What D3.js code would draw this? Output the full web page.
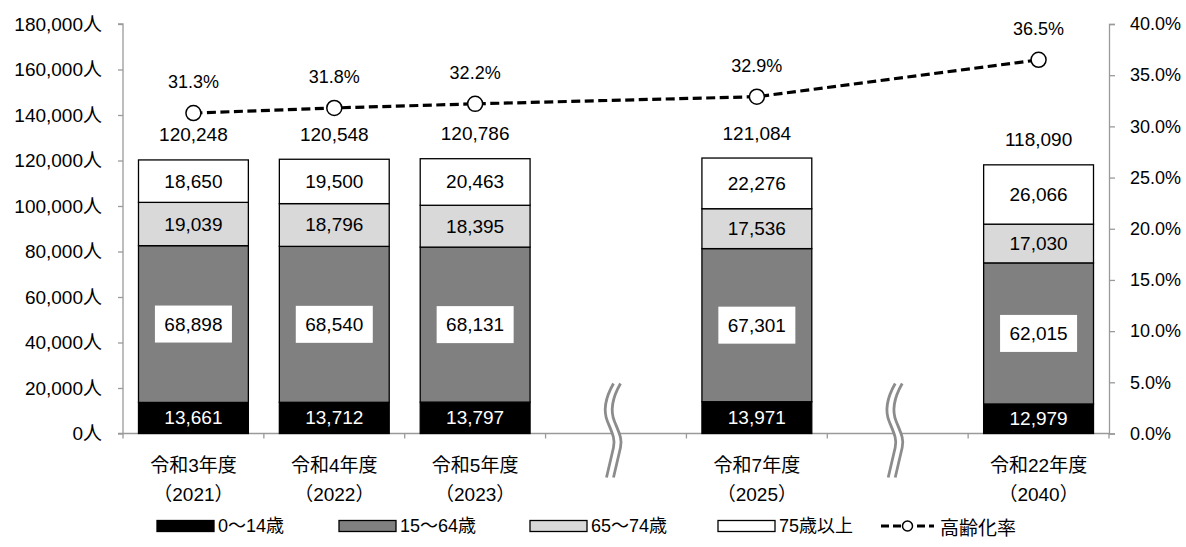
<!DOCTYPE html>
<html lang="ja">
<head>
<meta charset="utf-8">
<script src="https://cdn.jsdelivr.net/npm/d3@7"></script>
<style>
  html, body { margin: 0; padding: 0; background: #fff; }
  svg { display: block; }
  text { font-family: "Liberation Sans", "Noto Sans CJK JP", sans-serif; fill: #000; }
  .jp { font-family: "Noto Sans CJK JP", "Liberation Sans", sans-serif; }
</style>
</head>
<body>
<svg id="chart" width="1186" height="547"></svg>
<script>
// Population by age group (people) and aging rate (%)
const categories   = ["令和3年度", "令和4年度", "令和5年度", "令和7年度", "令和22年度"];
const fiscalYears  = ["（2021）", "（2022）", "（2023）", "（2025）", "（2040）"];
const slotOrder    = ["令和3年度", "令和4年度", "令和5年度", "gap-1", "令和7年度", "gap-2", "令和22年度"];
const breakSlots   = ["gap-1", "gap-2"];

const age0to14   = [13661, 13712, 13797, 13971, 12979];
const age15to64  = [68898, 68540, 68131, 67301, 62015];
const age65to74  = [19039, 18796, 18395, 17536, 17030];
const age75plus  = [18650, 19500, 20463, 22276, 26066];
const totals     = [120248, 120548, 120786, 121084, 118090];
const agingRate  = [31.3, 31.8, 32.2, 32.9, 36.5];

const seriesNames = ["0〜14歳", "15〜64歳", "65〜74歳", "75歳以上"];
const lineName    = "高齢化率";
const leftTicks   = [0, 20000, 40000, 60000, 80000, 100000, 120000, 140000, 160000, 180000];
const rightTicks  = [0, 5, 10, 15, 20, 25, 30, 35, 40];

const fills      = ["#000000", "#808080", "#d9d9d9", "#ffffff"];
const labelInk   = ["#ffffff", "#000000", "#000000", "#000000"];
const axisColor  = "#9a9a9a";

const svg = d3.select("#chart");
const plot = { left: 123, right: 1109, top: 24, bottom: 433.5 };

const x = d3.scaleBand().domain(slotOrder).range([plot.left, plot.right])
  .paddingInner(0.22).paddingOuter(0.11);
const yLeft = d3.scaleLinear().domain([0, 180000]).range([plot.bottom, plot.top]);
const yRight = d3.scaleLinear().domain([0, 40]).range([plot.bottom, plot.top]);

const rows = categories.map((c, i) => ({
  cat: c, year: fiscalYears[i],
  s0: age0to14[i], s1: age15to64[i], s2: age65to74[i], s3: age75plus[i],
  total: totals[i], rate: agingRate[i]
}));
const stack = d3.stack().keys(["s0", "s1", "s2", "s3"])(rows);
const cx = c => x(c) + x.bandwidth() / 2;

// Left axis
const gl = svg.append("g").attr("transform", `translate(${plot.left},0)`)
  .call(d3.axisLeft(yLeft).tickValues(leftTicks).tickSize(5).tickPadding(16)
    .tickFormat(d => d3.format(",")(d) + "人"));
gl.selectAll("path, line").attr("stroke", axisColor).attr("stroke-width", 1.3);
gl.select(".domain").attr("d", `M-5,${plot.bottom}H0V${plot.top}H-5`);
gl.selectAll("text").attr("font-size", 19).attr("font-family", null);

// Right axis
const gr = svg.append("g").attr("transform", `translate(${plot.right},0)`)
  .call(d3.axisRight(yRight).tickValues(rightTicks).tickSize(6).tickPadding(15)
    .tickFormat(d => d3.format(".1f")(d) + "%"));
gr.selectAll("path, line").attr("stroke", axisColor).attr("stroke-width", 1.3);
gr.selectAll("text").attr("font-size", 18).attr("font-family", null);

// Category axis along the bottom, ticks on slot boundaries
const step = x.step();
const edges = d3.range(slotOrder.length + 1).map(i => plot.left + i * step);
svg.append("line").attr("x1", plot.left).attr("x2", plot.right)
  .attr("y1", plot.bottom).attr("y2", plot.bottom)
  .attr("stroke", axisColor).attr("stroke-width", 1.3);
svg.append("g").selectAll("line").data(edges).join("line")
  .attr("x1", d => d).attr("x2", d => d)
  .attr("y1", plot.bottom).attr("y2", plot.bottom + 5)
  .attr("stroke", axisColor).attr("stroke-width", 1.3);

// Stacked bars
const barG = svg.append("g");
stack.forEach((layer, li) => {
  barG.append("g").selectAll("rect").data(layer).join("rect")
    .attr("x", d => x(d.data.cat))
    .attr("width", x.bandwidth())
    .attr("y", d => yLeft(d[1]))
    .attr("height", d => yLeft(d[0]) - yLeft(d[1]))
    .attr("fill", fills[li])
    .attr("stroke", "#000").attr("stroke-width", 1.3);
});

// Segment value labels
stack.forEach((layer, li) => {
  const g = svg.append("g");
  layer.forEach(d => {
    const mx = cx(d.data.cat);
    const my = (yLeft(d[0]) + yLeft(d[1])) / 2;
    if (li === 1) {
      g.append("rect").attr("x", mx - 38.5).attr("y", my - 18.5)
        .attr("width", 77).attr("height", 37).attr("fill", "#fff");
    }
    g.append("text").attr("x", mx).attr("y", my)
      .attr("text-anchor", "middle").attr("dominant-baseline", "central")
      .attr("font-size", 19).style("fill", labelInk[li])
      .text(d3.format(",")(d[1] - d[0]));
  });
});

// Totals above bars
svg.append("g").selectAll("text").data(rows).join("text")
  .attr("x", d => cx(d.cat)).attr("y", d => yLeft(d.total) - 25)
  .attr("text-anchor", "middle").attr("dominant-baseline", "central")
  .attr("font-size", 19).text(d => d3.format(",")(d.total));

// Aging rate line
const line = d3.line().x(d => cx(d.cat)).y(d => yRight(d.rate));
svg.append("path").datum(rows).attr("d", line)
  .attr("fill", "none").attr("stroke", "#000").attr("stroke-width", 3.2)
  .attr("stroke-dasharray", "9,4.5");
svg.append("g").selectAll("circle").data(rows).join("circle")
  .attr("cx", d => cx(d.cat)).attr("cy", d => yRight(d.rate)).attr("r", 7.5)
  .attr("fill", "#fff").attr("stroke", "#000").attr("stroke-width", 1.5);
svg.append("g").selectAll("text").data(rows).join("text")
  .attr("x", d => cx(d.cat)).attr("y", d => yRight(d.rate) - 31)
  .attr("text-anchor", "middle").attr("dominant-baseline", "central")
  .attr("font-size", 18).text(d => d3.format(".1f")(d.rate) + "%");

// Category labels
const catG = svg.append("g").attr("class", "jp");
rows.forEach(d => {
  catG.append("text").attr("x", cx(d.cat)).attr("y", 465)
    .attr("text-anchor", "middle").attr("dominant-baseline", "central")
    .attr("font-size", 19).text(d.cat);
  catG.append("text").attr("x", cx(d.cat)).attr("y", 494)
    .attr("text-anchor", "middle").attr("dominant-baseline", "central")
    .attr("font-size", 19).text(d.year);
});

// Axis break marks between non-consecutive years
const breakPath = "M1,-50 C-7,-36 -10,-24 -5,-12 C0,0 3,6 1,14 L-6,44";
breakSlots.forEach(s => {
  const g = svg.append("g").attr("transform", `translate(${cx(s) - 3.5},${plot.bottom})`);
  g.append("path").attr("d", breakPath).attr("transform", "translate(3.5,0)")
    .attr("fill", "none").attr("stroke", "#fff").attr("stroke-width", 7);
  [0, 7].forEach(dx => {
    g.append("path").attr("d", breakPath).attr("transform", `translate(${dx},0)`)
      .attr("fill", "none").attr("stroke", "#8c8c8c").attr("stroke-width", 2.8);
  });
});

// Legend
const legendY = 526;
const legendItems = [
  { x: 157, name: seriesNames[0] },
  { x: 339, name: seriesNames[1] },
  { x: 530, name: seriesNames[2] },
  { x: 718, name: seriesNames[3] }
];
const lg = svg.append("g").attr("class", "legend");
legendItems.forEach((it, i) => {
  lg.append("rect").attr("x", it.x).attr("y", legendY - 5.5).attr("width", 57).attr("height", 11)
    .attr("fill", fills[i]).attr("stroke", "#000").attr("stroke-width", 1.3);
  lg.append("text").attr("x", it.x + 61).attr("y", legendY)
    .attr("dominant-baseline", "central").attr("font-size", 18).text(it.name);
});
lg.append("line").attr("x1", 881).attr("x2", 934).attr("y1", legendY).attr("y2", legendY)
  .attr("stroke", "#000").attr("stroke-width", 3).attr("stroke-dasharray", "8,4");
lg.append("circle").attr("cx", 907.5).attr("cy", legendY).attr("r", 5)
  .attr("fill", "#fff").attr("stroke", "#000").attr("stroke-width", 1.5);
lg.append("text").attr("x", 940).attr("y", legendY).attr("class", "jp")
  .attr("dominant-baseline", "central").attr("font-size", 19).text(lineName);
</script>
</body>
</html>
